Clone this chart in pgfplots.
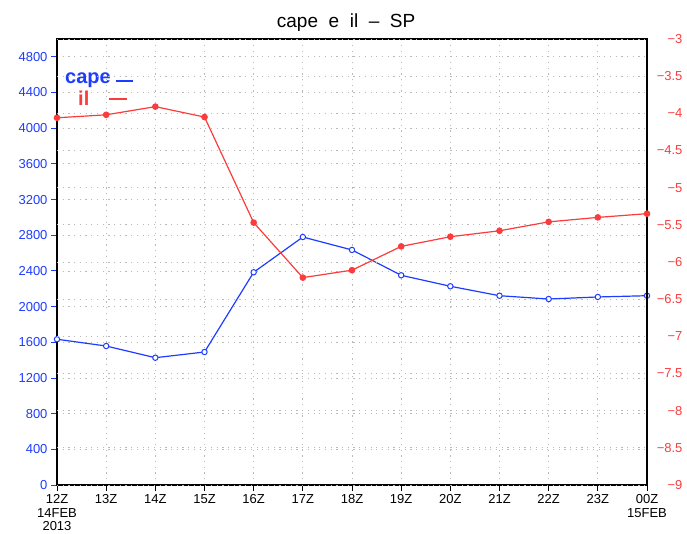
\documentclass[border=0pt]{standalone}
\usepackage{pgfplots}
\pgfplotsset{compat=1.18}
\usepackage{fontspec}
\setmainfont{Liberation Sans}
\definecolor{gblue}{RGB}{30,60,255}
\definecolor{gred}{RGB}{250,60,60}
\begin{document}
\begin{tikzpicture}
\path[use as bounding box] (-57pt,-48pt) rectangle (630pt,485pt);
\begin{axis}[
  scale only axis, width=590pt, height=446pt,
  xmin=0, xmax=12, ymin=0, ymax=5000,
  xtick={0,...,12},
  xticklabels={12Z\\14FEB\\2013,13Z,14Z,15Z,16Z,17Z,18Z,19Z,20Z,21Z,22Z,23Z,00Z\\15FEB},
  xticklabel style={align=center, font=\fontsize{13}{13.5}\selectfont, text=black},
  ytick={0,400,...,4800},
  yticklabel style={text=gblue, font=\fontsize{13}{13}\selectfont,
    /pgf/number format/assume math mode=true, /pgf/number format/1000 sep={}},
  scaled ticks=false,
  xtick pos=lower, ytick pos=left,
  tick align=outside, major tick length=6pt,
  ytick style={draw=gblue, line width=0.9pt},
  xtick style={draw=black, line width=0.9pt},
  xmajorgrids, ymajorgrids,
  major grid style={dash pattern=on 1.2pt off 4.5pt, gray!55, line width=0.8pt},
  axis line style={black, line width=1.3pt},
  clip=false,
]
\addplot[gblue, line width=1.2pt, mark=*, mark size=2.7pt, mark options={fill=white, line width=1pt}]
coordinates {(0,1634) (1,1558) (2,1427) (3,1491) (4,2385) (5,2780) (6,2635) (7,2351) (8,2228) (9,2122) (10,2085) (11,2108) (12,2122)};
\node[anchor=base, font=\fontsize{19}{19}\selectfont] at (rel axis cs:0.49,1) [yshift=11pt] {cape\ \ e\ \ il\ \ –\ \ SP};
\node[anchor=base west, inner sep=0pt, text=gblue, font=\fontsize{20}{20}\bfseries] at (rel axis cs:0.0136,0.901) {cape};
\draw[gblue, line width=1.6pt] (rel axis cs:0.100,0.906) -- (rel axis cs:0.129,0.906);
\node[anchor=base west, inner sep=0pt, text=gred, font=\fontsize{20}{20}\bfseries] at (rel axis cs:0.0356,0.85) {il};
\draw[gred, line width=1.6pt] (rel axis cs:0.088,0.865) -- (rel axis cs:0.119,0.865);
\end{axis}
\begin{axis}[
  scale only axis, width=590pt, height=446pt,
  xmin=0, xmax=12, ymin=-9, ymax=-3,
  axis x line=none, axis y line*=right,
  ytick={-9,-8.5,...,-3},
  yticklabels={−9,−8.5,−8,−7.5,−7,−6.5,−6,−5.5,−5,−4.5,−4,−3.5,−3},
  yticklabel style={text=gred, font=\fontsize{13}{13}\selectfont, anchor=east, xshift=39pt},
  ytick style={draw=none},
  ymajorgrids,
  major grid style={dash pattern=on 1.2pt off 4.5pt, gray!55, line width=0.8pt},
  axis line style={black, line width=1.3pt},
]
\addplot[gred, line width=1.2pt, mark=*, mark size=2.7pt, mark options={fill=gred}]
coordinates {(0,-4.06) (1,-4.02) (2,-3.91) (3,-4.05) (4,-5.47) (5,-6.21) (6,-6.11) (7,-5.79) (8,-5.66) (9,-5.58) (10,-5.46) (11,-5.40) (12,-5.35)};
\end{axis}
\end{tikzpicture}
\end{document}
